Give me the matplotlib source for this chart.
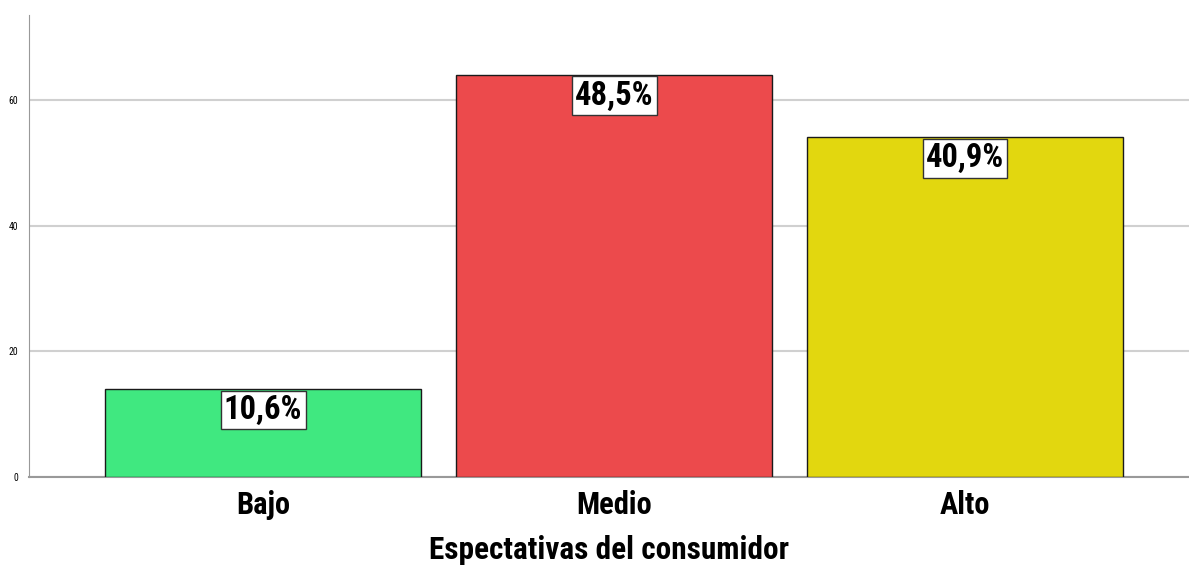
import matplotlib.pyplot as plt
import numpy as np

categorias = ["Bajo", "Medio", "Alto"]
frecuencias = [14, 64, 54]
porcentajes = ["10,6%", "48,5%", "40,9%"]
colores = ["#40e880", "#ec4a4c", "#e2d70f"]

fuente = ["Roboto Condensed", "DejaVu Sans"]

fig = plt.figure(figsize=(11.89, 5.72), dpi=100)
ax = fig.add_axes([0.0244, 0.166, 0.9756, 0.808])

x = np.arange(len(categorias))
ax.bar(x, frecuencias, width=0.9, color=colores, edgecolor="#1a1a1a", linewidth=1, zorder=3)

for xi, v, p in zip(x, frecuencias, porcentajes):
    ax.annotate(p, (xi, v), xytext=(0, -3.5), textcoords="offset points",
                ha="center", va="top", fontsize=23.5, fontweight="bold", family=fuente,
                bbox=dict(boxstyle="square,pad=0.1", fc="white", ec="#333333", lw=1), zorder=4)

ax.set_xlim(-0.667, 2.638)
ax.set_ylim(0, 73.5)
ax.set_yticks([0, 20, 40, 60])
ax.yaxis.grid(True, color="#d0d0d0", linewidth=1.5, zorder=0)
ax.tick_params(axis="y", length=0, labelsize=7, pad=8)
ax.tick_params(axis="x", length=0, pad=9)
ax.set_xticks(x)
ax.set_xticklabels(categorias, fontsize=22, fontweight="bold", family=fuente)
for lab in ax.get_yticklabels():
    lab.set_family(fuente)
ax.set_xlabel("Espectativas del consumidor", fontsize=22.5, fontweight="bold", family=fuente, labelpad=11)

for s in ["top", "right"]:
    ax.spines[s].set_visible(False)
ax.spines["left"].set_color("#999999")
ax.spines["bottom"].set_color("#999999")
ax.spines["bottom"].set_linewidth(1.5)

fig.savefig("out.png", dpi=100)
